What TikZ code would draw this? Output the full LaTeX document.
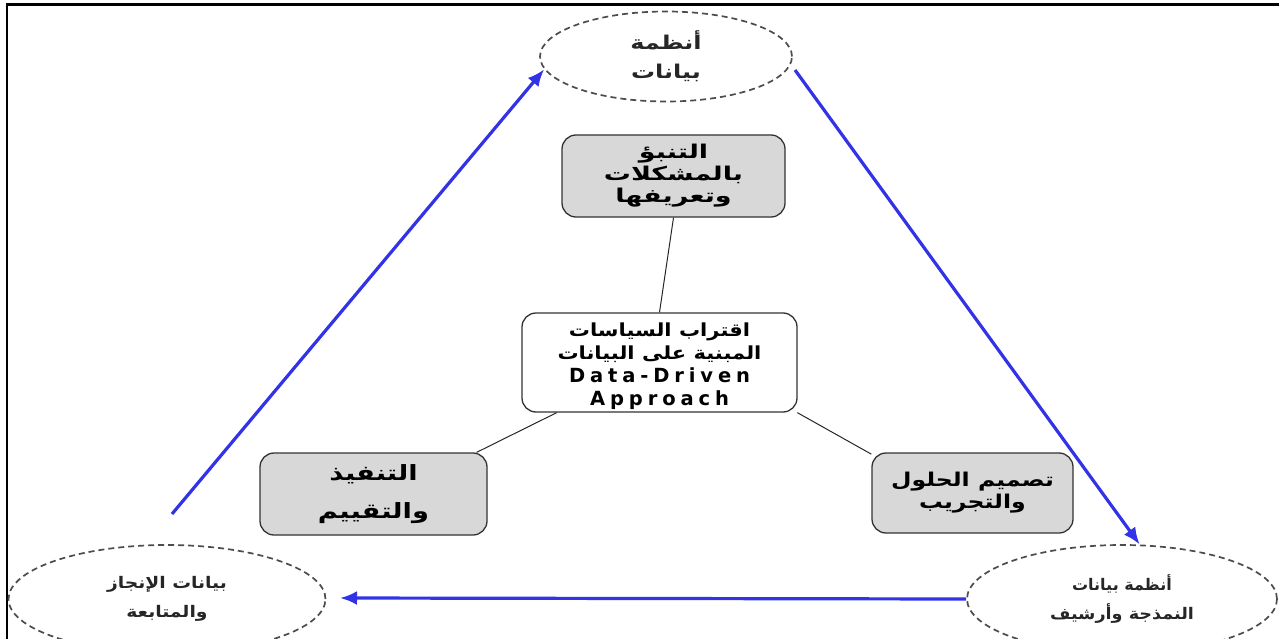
\documentclass[tikz,border=0pt]{standalone}
\usepackage{fontspec}
\usepackage{graphicx}
\setmainfont{DejaVu Sans}
\newfontfamily\arabicfont[Script=Arabic]{DejaVu Sans}
\newfontfamily\latinwide[LetterSpace=25]{DejaVu Sans}
\TeXXeTstate=1
\usetikzlibrary{shapes.geometric,arrows.meta}
\definecolor{flowblue}{RGB}{50,50,230}
\definecolor{boxgrey}{RGB}{216,216,216}
% widen one line of text by #1
\newcommand{\widen}[2]{\scalebox{#1}[1]{#2}}
\tikzset{
  dataell/.style={ellipse, draw=black!70, dash pattern=on 6pt off 4pt,
    line width=1.7pt, inner sep=0pt, align=center, text=black!85},
  stagebox/.style={rectangle, rounded corners=14pt, draw=black!80,
    line width=1.3pt, fill=boxgrey, inner sep=0pt, align=center},
  corebox/.style={stagebox, fill=white},
  link/.style={draw=black!85, line width=1pt},
  flow/.style={draw=flowblue, line width=3.2pt,
    -{Latex[length=17pt,width=14pt]}}
}
\begin{document}
\begin{tikzpicture}[x=1pt,y=-1pt]
\useasboundingbox (0,0) rectangle (1279,639);
\clip (0,0) rectangle (1279,639);

% outer frame
\draw[line width=2.2pt] (7,660) -- (7,4.5) -- (1300,4.5);

% data systems around the cycle
\node[dataell, minimum width=252pt, minimum height=90pt,
      font=\arabicfont\bfseries\fontsize{19}{29}\selectfont] (sys) at (666,56.5)
  {\widen{1.26}{\beginR أنظمة\endR}\\\widen{1.26}{\beginR بيانات\endR}};
\node[dataell, minimum width=317pt, minimum height=108pt,
      font=\arabicfont\bfseries\fontsize{16}{29}\selectfont] (perf) at (167,599)
  {\widen{1.17}{\beginR بيانات الإنجاز\endR}\\\widen{1.17}{\beginR والمتابعة\endR}};
\node[dataell, minimum width=310pt, minimum height=108pt,
      font=\arabicfont\bfseries\fontsize{16}{29}\selectfont] (model) at (1122,599)
  {\widen{1.0}{\beginR أنظمة بيانات\endR}\\\widen{1.1}{\beginR النمذجة وأرشيف\endR}};

% stages of the approach
\node[stagebox, minimum width=223pt, minimum height=82pt,
      font=\arabicfont\bfseries\fontsize{19}{22}\selectfont] (predict) at (673.5,176)
  {\widen{1.42}{\beginR التنبؤ\endR}\\\widen{1.42}{\beginR بالمشكلات\endR}\\\widen{1.42}{\beginR وتعريفها\endR}};
\node[corebox, minimum width=275pt, minimum height=99pt,
      font=\fontsize{18}{23}\selectfont] (core) at (659.5,362.5)
  {\raisebox{-4pt}[\height][\depth]{\begin{tabular}{@{}c@{}}
   \arabicfont\bfseries\fontsize{18}{23}\selectfont
   \widen{1.17}{\beginR اقتراب السياسات\endR}\\
   \arabicfont\bfseries\fontsize{18}{23}\selectfont
   \widen{1.17}{\beginR المبنية على البيانات\endR}\\
   \latinwide\bfseries\fontsize{19.5}{21}\selectfont Data-Driven\\
   \latinwide\bfseries\fontsize{19.5}{21}\selectfont Approach
   \end{tabular}}};
\node[stagebox, minimum width=227pt, minimum height=82pt,
      font=\arabicfont\bfseries\fontsize{21}{22}\selectfont] (exec) at (373.5,494)
  {\widen{1.3}{\beginR التنفيذ\endR}\\[16pt]\widen{1.3}{\beginR والتقييم\endR}};
\node[stagebox, minimum width=201pt, minimum height=80pt,
      font=\arabicfont\bfseries\fontsize{19}{22}\selectfont] (design) at (972.5,493)
  {\widen{1.24}{\beginR تصميم الحلول\endR}\\\widen{1.24}{\beginR والتجريب\endR}};

\draw[link] (predict.south) -- (core.north);
\draw[link] (core.206) -- (exec.22);
\draw[link] (core.340) -- (design.159);

% cycle arrows
\coordinate (f1) at (172,514);
\coordinate (f2) at (795,70);
\coordinate (f3) at (340,598);
\draw[flow] (f1) -- (sys.186);
\draw[flow] (f2) -- (model.72);
\draw[flow] (model.west) -- (f3);
\end{tikzpicture}
\end{document}
